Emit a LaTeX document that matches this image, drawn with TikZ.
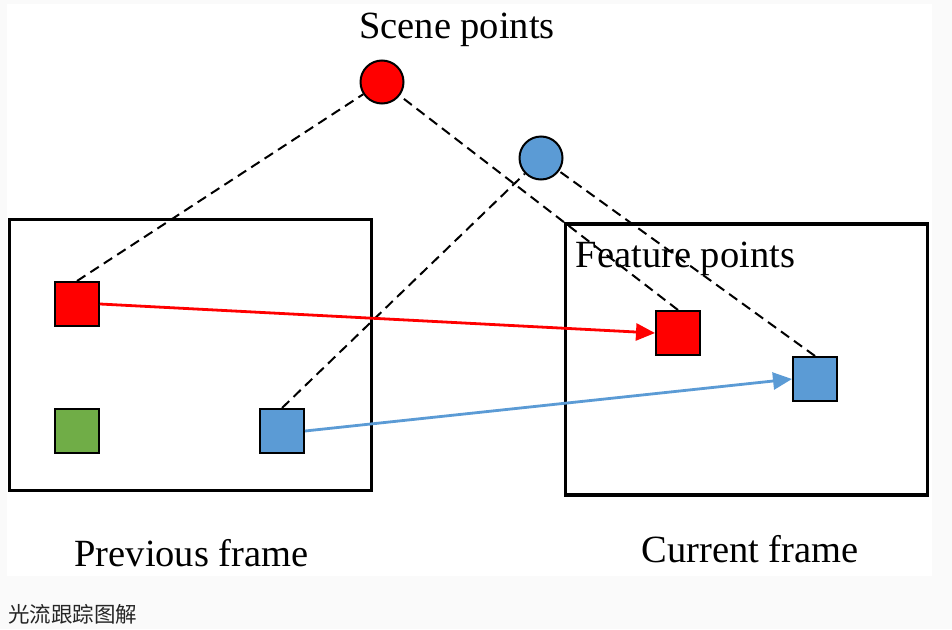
\documentclass[tikz,border=0pt]{standalone}
\usepackage{fontspec}
\setmainfont{Liberation Serif}
\newfontfamily\cjk{Noto Sans CJK SC}
\usetikzlibrary{arrows.meta}
\definecolor{ptred}{HTML}{FF0000}
\definecolor{ptblue}{HTML}{5B9BD5}
\definecolor{ptgreen}{HTML}{70AD47}
\definecolor{pagegray}{HTML}{FAFAFA}
\begin{document}
\begin{tikzpicture}
[x=1pt,y=-1pt,
  framedecorate/.style={shape=rectangle,draw,line width=3.2pt,minimum width=362pt,minimum height=271pt,inner sep=0pt},%
  squaredecorate/.style={shape=rectangle,draw,line width=2pt,minimum size=44pt,inner sep=0pt},%
  circledecorate/.style={shape=circle,draw,line width=2pt,minimum size=43pt,inner sep=0pt},%
  labeldecorate/.style={font=\fontsize{38.5}{42}\selectfont,anchor=base,inner sep=0pt},%
  dashdecorate/.style={-,line width=2pt,dash pattern=on 10pt off 6pt},%
  arrowdecorate/.style={-{Triangle[length=19pt,width=17pt]},line width=2.8pt}]
\useasboundingbox (0,0) rectangle (952,629);
\fill[pagegray] (0,0) rectangle (952,629);
\fill[white] (7,4) rectangle (932,576);
%% frames
\node (prev) at (190.5,355) [framedecorate] {};
\node (curr) at (746.5,359.5) [framedecorate] {};
%% scene points
\node (redC) at (382,82) [circledecorate,fill=ptred] {};
\node (blueC) at (541,158) [circledecorate,fill=ptblue] {};
%% feature points
\foreach \nodename/\x/\y/\col in {redL/77/304/ptred, greenL/77/431/ptgreen, blueL/282/431/ptblue,
                                  redR/678/333/ptred, blueR/815/379/ptblue} {
  \node (\nodename) at (\x,\y) [squaredecorate,fill=\col] {};
}
%% projections
\path
\foreach \startnode/\endnode in {redL/redC, redR/redC, blueL/blueC, blueR/blueC} {
  (\startnode.north) edge[dashdecorate] (\endnode)
};
%% tracks
\draw[arrowdecorate,ptred] (redL.east) -- (redR.west);
\draw[arrowdecorate,ptblue] (blueL.east) -- (blueR.west);
%% labels
\node (scene) at (457,38) [labeldecorate] {Scene points};
\node (feat) at (685.5,267) [labeldecorate] {Feature points};
\node (prevlabel) at (191.5,566) [labeldecorate] {Previous frame};
\node (currlabel) at (750,562) [labeldecorate] {Current frame};
\node (caption) at (8,622) [anchor=base west,inner sep=0pt,font=\cjk\fontsize{21.5}{23}\selectfont,text=black!85] {光流跟踪图解};
\end{tikzpicture}
\end{document}
